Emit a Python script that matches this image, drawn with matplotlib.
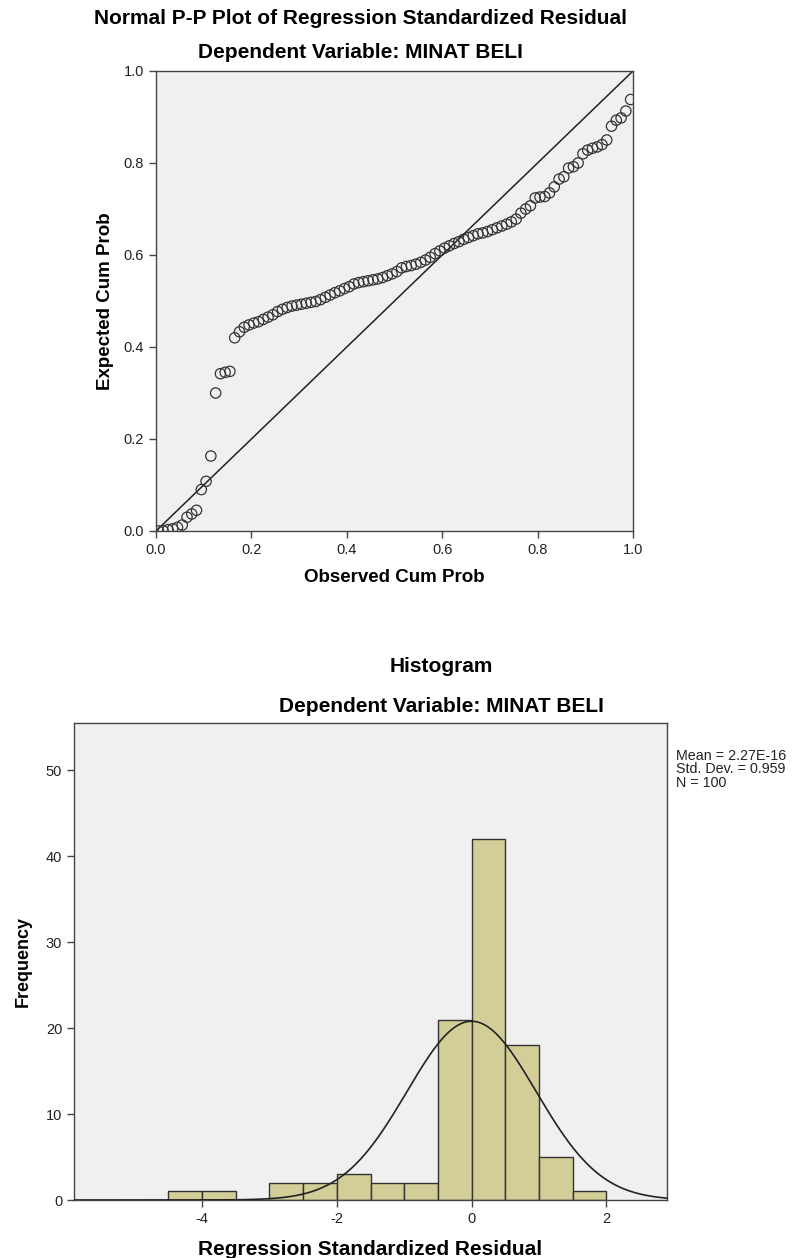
import numpy as np
import matplotlib
matplotlib.use("Agg")
import matplotlib.pyplot as plt

plt.rcParams['font.family'] = ['Liberation Sans', 'DejaVu Sans']
plt.rcParams['axes.unicode_minus'] = False

# P-P plot: expected cumulative probabilities, sorted (one per case)
expected_cum = [
    0.0001, 0.0003, 0.003, 0.005, 0.008, 0.013, 0.030, 0.037, 0.045, 0.090,
    0.108, 0.163, 0.300, 0.342, 0.345, 0.347, 0.420, 0.433, 0.443, 0.448,
    0.452, 0.455, 0.460, 0.465, 0.470, 0.477, 0.482, 0.486, 0.489, 0.491,
    0.493, 0.495, 0.497, 0.499, 0.503, 0.508, 0.513, 0.518, 0.522, 0.527,
    0.531, 0.537, 0.540, 0.542, 0.544, 0.546, 0.548, 0.551, 0.555, 0.559,
    0.564, 0.572, 0.575, 0.577, 0.580, 0.584, 0.589, 0.595, 0.603, 0.609,
    0.615, 0.620, 0.625, 0.629, 0.634, 0.638, 0.642, 0.646, 0.648, 0.651,
    0.655, 0.659, 0.663, 0.667, 0.672, 0.678, 0.691, 0.700, 0.707, 0.724,
    0.726, 0.727, 0.735, 0.748, 0.765, 0.770, 0.789, 0.792, 0.800, 0.820,
    0.828, 0.832, 0.835, 0.840, 0.850, 0.880, 0.893, 0.898, 0.913, 0.938,
]
n_cases = len(expected_cum)
observed_cum = (np.arange(n_cases) + 0.5) / n_cases

# histogram of standardized residuals
bin_edges = [-4.5, -4.0, -3.5, -3.0, -2.5, -2.0, -1.5, -1.0, -0.5, 0.0, 0.5, 1.0, 1.5, 2.0]
counts = [1, 1, 0, 2, 2, 3, 2, 2, 21, 42, 18, 5, 1]
mean_val = 2.27e-16
std_val = 0.959
n_val = 100

bg = '#F0F0F0'
edge = '#333333'
bar_col = '#D3CE98'

fig = plt.figure(figsize=(7.97, 12.58), dpi=100)

# ---- P-P plot
ax1 = fig.add_axes([156/797, 1 - 531/1258, 477/797, 460/1258])
ax1.set_facecolor(bg)
ax1.plot([0, 1], [0, 1], color='#222222', lw=1.1, zorder=2)
ax1.scatter(observed_cum, expected_cum, s=55, facecolors='none',
            edgecolors='#333333', linewidths=0.9, zorder=3)
ax1.set_xlim(0, 1)
ax1.set_ylim(0, 1)
ax1.set_xticks(np.arange(0, 1.01, 0.2))
ax1.set_yticks(np.arange(0, 1.01, 0.2))
ax1.xaxis.set_major_formatter(matplotlib.ticker.FormatStrFormatter('%.1f'))
ax1.yaxis.set_major_formatter(matplotlib.ticker.FormatStrFormatter('%.1f'))
ax1.set_xlabel('Observed Cum Prob', fontsize=13.5, fontweight='bold', labelpad=9)
ax1.set_ylabel('Expected Cum Prob', fontsize=13.5, fontweight='bold', labelpad=7)

fig.text(360/797, 1 - 18/1258, 'Normal P-P Plot of Regression Standardized Residual',
         ha='center', va='center', fontsize=15, fontweight='bold')
fig.text(360/797, 1 - 53/1258, 'Dependent Variable: MINAT BELI',
         ha='center', va='center', fontsize=15, fontweight='bold')

# ---- Histogram
ax2 = fig.add_axes([74/797, 1 - 1200/1258, 593/797, 477/1258])
ax2.set_facecolor(bg)
ax2.bar(bin_edges[:-1], counts, width=0.5, align='edge', color=bar_col,
        edgecolor=edge, linewidth=1.0, zorder=2)
xs = np.linspace(-5.9, 2.9, 400)
pdf = n_val * 0.5 / (std_val * np.sqrt(2 * np.pi)) * np.exp(-0.5 * ((xs - mean_val) / std_val) ** 2)
ax2.plot(xs, pdf, color='#222222', lw=1.2, zorder=3)
ax2.set_xlim(-5.9, 2.9)
ax2.set_ylim(0, 55.5)
ax2.set_xticks([-4, -2, 0, 2])
ax2.set_yticks([0, 10, 20, 30, 40, 50])
ax2.set_xlabel('Regression Standardized Residual', fontsize=15, fontweight='bold', labelpad=10)
ax2.set_ylabel('Frequency', fontsize=13, fontweight='bold', labelpad=10)

fig.text(441/797, 1 - 667/1258, 'Histogram', ha='center', va='center',
         fontsize=15, fontweight='bold')
fig.text(441/797, 1 - 706/1258, 'Dependent Variable: MINAT BELI', ha='center',
         va='center', fontsize=15, fontweight='bold')
fig.text(676/797, 1 - 749/1258,
         'Mean = 2.27E-16\nStd. Dev. = 0.959\nN = 100',
         ha='left', va='top', fontsize=10.3, linespacing=0.95, color='#222222')

for ax in (ax1, ax2):
    for sp in ax.spines.values():
        sp.set_color('#444444')
        sp.set_linewidth(1.0)
    ax.tick_params(direction='out', length=5, width=1.0, color='#444444',
                   labelsize=10.5, labelcolor='#222222')

fig.savefig('out.png', dpi=100)
